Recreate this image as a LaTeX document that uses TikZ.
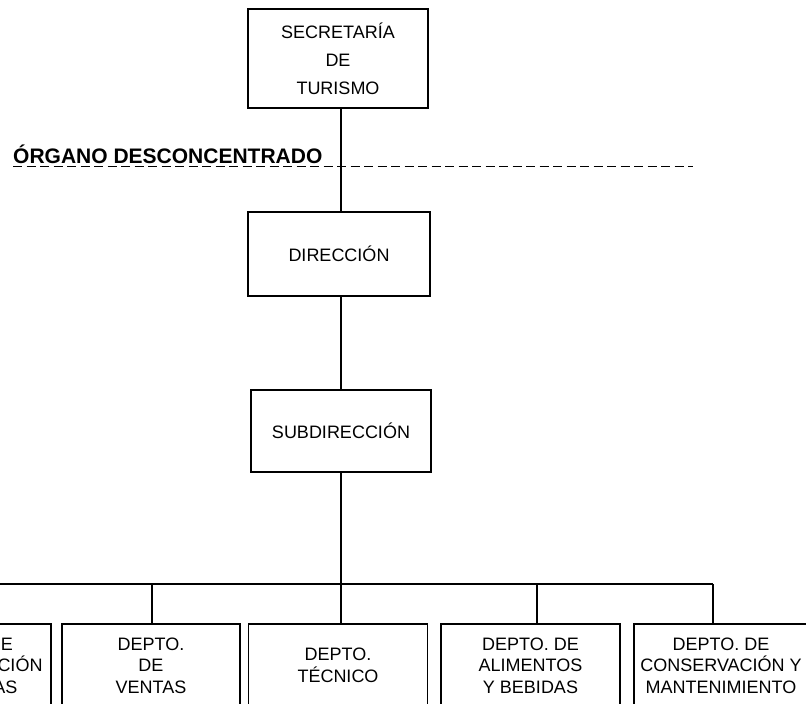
\documentclass[tikz,border=0pt]{standalone}
\usepackage{fontspec}
\setmainfont{Liberation Sans}
\usetikzlibrary{calc}

\begin{document}
\begin{tikzpicture}[x=1pt, y=-1pt,
  unit/.style={draw, line width=1.7pt, align=center, inner sep=0pt, font=\fontsize{18}{21.5}\selectfont},
  dept/.style={unit, minimum width=179, minimum height=83},
  link/.style={line width=1.7pt}]
\useasboundingbox (0,0) rectangle (806,704);
\node[unit, minimum width=180, minimum height=99, font=\fontsize{18}{28}\selectfont] (sec) at (338,58.5) {SECRETARÍA\\DE\\TURISMO};
\node[unit, minimum width=182, minimum height=84] (dir) at (339,254) {DIRECCIÓN};
\node[unit, minimum width=180, minimum height=82] (sub) at (341,431) {SUBDIRECCIÓN};
\node[anchor=base west, inner sep=0pt, font=\bfseries\fontsize{21}{24}\selectfont] (org) at (13,163) {ÓRGANO DESCONCENTRADO};
\coordinate (dashend) at (693,166.5);
\draw[link, dash pattern=on 9pt off 4.5pt] (org.west |- dashend) -- (dashend);
\node[dept, minimum width=173] (adm) at (-35.5,665.5) {DEPTO. DE\\ADMINISTRACIÓN\\Y FINANZAS};
\node[dept, minimum width=178] (ven) at (151,665.5) {DEPTO.\\DE\\VENTAS};
\node[dept] (tec) at (338,665.5) {DEPTO.\\TÉCNICO};
\node[dept] (ali) at (530.5,665.5) {DEPTO. DE\\ALIMENTOS\\Y BEBIDAS};
\node[dept, minimum width=174] (con) at (721,665.5) {DEPTO. DE\\CONSERVACIÓN Y\\MANTENIMIENTO};
\coordinate (bar) at (341,584);
\coordinate (jadm) at (-35.5,584);
\coordinate (jven) at (152,584);
\coordinate (jali) at (537,584);
\coordinate (jcon) at (713,584);
\draw[link] (sec.south -| bar) -- (dir.north -| bar);
\draw[link] (dir.south -| bar) -- (sub.north -| bar);
\draw[line width=2.8pt] (sub.south -| bar) -- (bar);
\draw[link] (jadm) -- (jcon);
\draw[link] (bar) -- (bar |- tec.north);
\draw[link] (jadm) -- (jadm |- adm.north);
\draw[link] (jven) -- (jven |- ven.north);
\draw[link] (jali) -- (jali |- ali.north);
\draw[link] (jcon) -- (jcon |- con.north);
\end{tikzpicture}
\end{document}
